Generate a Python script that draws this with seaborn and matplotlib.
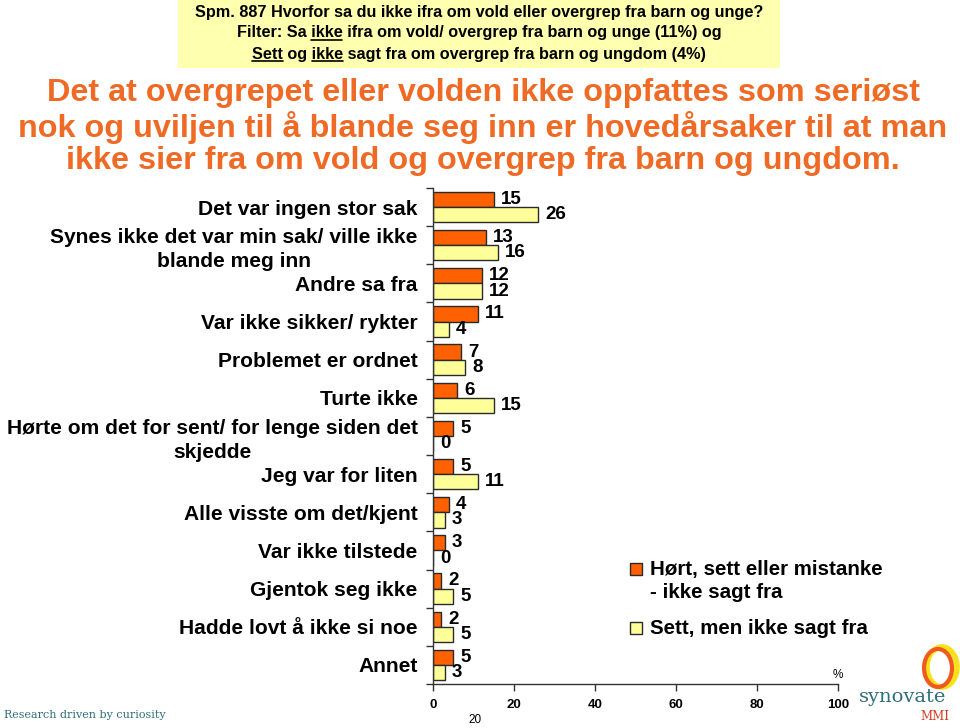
import matplotlib
matplotlib.use("Agg")
import matplotlib.pyplot as plt
import seaborn as sns
import pandas as pd
import numpy as np
from matplotlib.patches import Ellipse, Rectangle

categories = [
    "Det var ingen stor sak",
    "Synes ikke det var min sak/ ville ikke\nblande meg inn",
    "Andre sa fra",
    "Var ikke sikker/ rykter",
    "Problemet er ordnet",
    "Turte ikke",
    "Hørte om det for sent/ for lenge siden det\nskjedde",
    "Jeg var for liten",
    "Alle visste om det/kjent",
    "Var ikke tilstede",
    "Gjentok seg ikke",
    "Hadde lovt å ikke si noe",
    "Annet",
]
series_names = ["Hørt, sett eller mistanke\n- ikke sagt fra", "Sett, men ikke sagt fra"]
hort_values = [15, 13, 12, 11, 7, 6, 5, 5, 4, 3, 2, 2, 5]
sett_values = [26, 16, 12, 4, 8, 15, 0, 11, 3, 0, 5, 5, 3]
x_ticks = [0, 20, 40, 60, 80, 100]

ORANGE = "#FF6000"
YELLOW = "#FFFF99"
TITLE_C = "#EF6A25"
EDGE = "#2a2a2a"

df = pd.DataFrame({
    "kategori": categories * 2,
    "serie": [series_names[0]] * len(categories) + [series_names[1]] * len(categories),
    "verdi": hort_values + sett_values,
})

sns.set_theme(style="white")
plt.rcParams["font.family"] = ["Liberation Sans", "DejaVu Sans"]

fig = plt.figure(figsize=(9.6, 7.28), dpi=100)
ax = fig.add_axes([433 / 960, 1 - 684 / 728, (838 - 433) / 960, (684 - 188) / 728])

sns.barplot(data=df, y="kategori", x="verdi", hue="serie", orient="h",
            palette=[ORANGE, YELLOW], saturation=1, order=categories, hue_order=series_names,
            width=0.8, edgecolor=EDGE, linewidth=1.0, ax=ax, legend=False)

for cont in ax.containers:
    ax.bar_label(cont, labels=[f"{v:g}" for v in cont.datavalues], padding=5,
                 fontsize=13.5, fontweight="bold", color="black")

ax.set_xlim(0, 100)
ax.set_ylim(len(categories) - 0.5, -0.5)
ax.set_xticks(x_ticks)
ax.set_xticklabels([str(t) for t in x_ticks], fontsize=9.5, fontweight="bold")
ax.set_xlabel("")
ax.set_ylabel("")
ax.set_yticks(range(len(categories)))
ax.set_yticklabels(categories, fontsize=15.1, fontweight="bold", ha="right",
                   multialignment="center", color="black", linespacing=1.35)
ax.set_yticks(np.arange(-0.5, len(categories), 1), minor=True)
ax.tick_params(axis="y", which="major", length=0, pad=11)
ax.tick_params(axis="y", which="minor", length=5, width=1, color="#333333", direction="out", left=True)
ax.tick_params(axis="x", which="major", length=5, width=1, color="#333333", direction="out",
               bottom=True, pad=6, labelcolor="black")
for s in ["top", "right"]:
    ax.spines[s].set_visible(False)
for s in ["left", "bottom"]:
    ax.spines[s].set_color("#333333")
    ax.spines[s].set_linewidth(1)
ax.grid(False)

# legend (handle aligned with first text line, as in the original)
leg_items = [(series_names[0], ORANGE, 569), (series_names[1], YELLOW, 628)]
for label, col, yy in leg_items:
    fig.add_artist(Rectangle((630 / 960, 1 - (yy + 6) / 728), 12 / 960, 12 / 728,
                             transform=fig.transFigure, facecolor=col, edgecolor=EDGE, lw=1))
    fig.text(650 / 960, 1 - (yy - 9) / 728, label, ha="left", va="top", fontsize=14.8,
             fontweight="bold", color="black", linespacing=1.3)

# header box
fig.patches.append(Rectangle((178 / 960, 1 - 68 / 728), (780 - 178) / 960, 68 / 728,
                             transform=fig.transFigure, facecolor="#FFFFB0",
                             edgecolor="none", zorder=0))
header_lines = [
    "Spm. 887 Hvorfor sa du ikke ifra om vold eller overgrep fra barn og unge?",
    "Filter: Sa ikke ifra om vold/ overgrep fra barn og unge (11%) og",
    "Sett og ikke sagt fra om overgrep fra barn og ungdom (4%)",
]
underlines = [[], [("Filter: Sa ", "ikke")], [("", "Sett"), ("Sett og ", "ikke")]]
header_y = [12, 33, 54]
fig.canvas.draw()
renderer = fig.canvas.get_renderer()
hdr_fs = 11.7
for line, yy, unds in zip(header_lines, header_y, underlines):
    t = fig.text(479 / 960, 1 - yy / 728, line, ha="center", va="center",
                 fontsize=hdr_fs, fontweight="bold", color="black")
    bb = t.get_window_extent(renderer)
    for prefix, word in unds:
        if prefix:
            tp = fig.text(0, 0, prefix, fontsize=hdr_fs, fontweight="bold")
            w0 = tp.get_window_extent(renderer).width
            tp.remove()
        else:
            w0 = 0
        tw = fig.text(0, 0, word, fontsize=hdr_fs, fontweight="bold")
        w1 = tw.get_window_extent(renderer).width
        tw.remove()
        x0 = bb.x0 + w0
        yline = bb.y0 + 1
        fig.add_artist(plt.Line2D([x0 / fig.bbox.width, (x0 + w1) / fig.bbox.width],
                                  [yline / fig.bbox.height] * 2, color="black",
                                  lw=1.2, transform=fig.transFigure))

# title
title_lines = [
    "Det at overgrepet eller volden ikke oppfattes som seriøst",
    "nok og uviljen til å blande seg inn er hovedårsaker til at man",
    "ikke sier fra om vold og overgrep fra barn og ungdom.",
]
for line, yy in zip(title_lines, [93, 127, 161]):
    fig.text(483 / 960, 1 - yy / 728, line, ha="center", va="center",
             fontsize=23.3, fontweight="bold", color=TITLE_C)

# small texts
fig.text(838 / 960, 1 - 675 / 728, "%", ha="center", va="center", fontsize=8.5, color="black")
fig.text(475 / 960, 1 - 720 / 728, "20", ha="center", va="center", fontsize=8.5, color="black")
fig.text(4 / 960, 1 - 715 / 728, "Research driven by curiosity", ha="left", va="center",
         fontsize=8, color="#2E6F7A", family="DejaVu Serif")
fig.text(903 / 960, 1 - 697 / 728, "synovate", ha="center", va="center",
         fontsize=14, color="#2E6F7A", family="DejaVu Serif")
fig.text(935 / 960, 1 - 716 / 728, "MMI", ha="center", va="center",
         fontsize=8.5, color="#D83A20", family="DejaVu Serif")
fig.add_artist(Ellipse((942 / 960, 1 - 667 / 728), 30 / 960, 40 / 728, transform=fig.transFigure,
                       fill=False, edgecolor="#F7E21A", lw=4))
fig.add_artist(Ellipse((938 / 960, 1 - 668 / 728), 28 / 960, 38 / 728, transform=fig.transFigure,
                       fill=False, edgecolor="#F05A1E", lw=3))

fig.savefig("out.png", dpi=100)
